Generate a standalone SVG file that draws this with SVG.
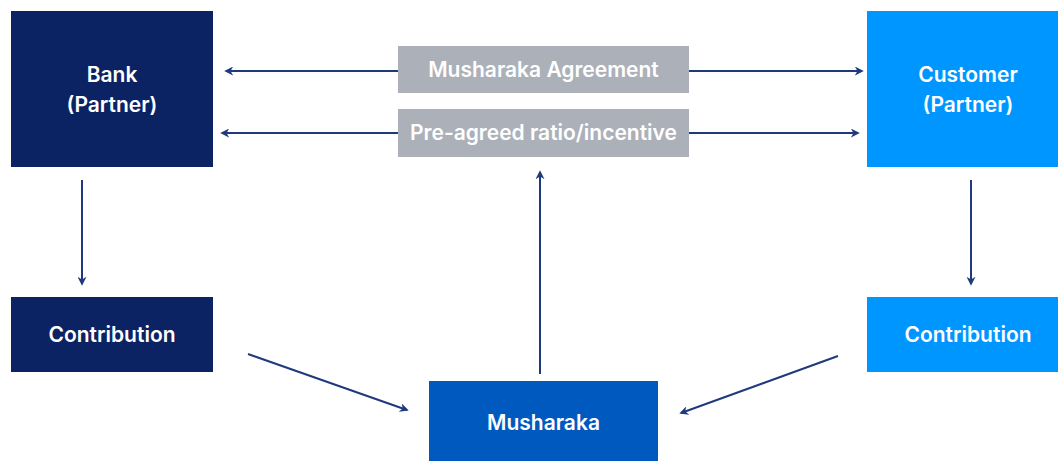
<svg xmlns="http://www.w3.org/2000/svg" width="1058" height="461" viewBox="0 0 1058 461">
<style>
.t{font-family:Inter,"Liberation Sans",sans-serif;font-weight:600;font-size:21px;fill:#ffffff;text-anchor:middle}
.c{stroke:#1f3a7c;stroke-width:2;fill:none;marker-end:url(#ah)}
</style>
<defs>
<marker id="ah" viewBox="0 0 10 10" refX="8" refY="5" markerWidth="4.5" markerHeight="4.5" orient="auto" markerUnits="strokeWidth">
<path d="M0,0 L10,5 L0,10 L3,5 z" fill="#1f3a7c"/>
</marker>
</defs>
<rect width="1058" height="461" fill="#ffffff"/>
<g id="connectors">
<line class="c" x1="398" y1="71" x2="226" y2="71"/>
<line class="c" x1="398" y1="133" x2="222" y2="133"/>
<line class="c" x1="689" y1="71" x2="862" y2="71"/>
<line class="c" x1="689" y1="133" x2="858" y2="133"/>
<line class="c" x1="82" y1="180" x2="82" y2="284"/>
<line class="c" x1="971" y1="180" x2="971" y2="284"/>
<line class="c" x1="248" y1="354" x2="407" y2="410"/>
<line class="c" x1="838" y1="356" x2="681" y2="413"/>
<line class="c" x1="540" y1="374" x2="540" y2="172"/>
</g>
<g id="bank">
<rect x="11" y="11" width="202" height="156" fill="#0c2363"/>
<text class="t" x="112" y="82">Bank</text>
<text class="t" x="112" y="112">(Partner)</text>
</g>
<g id="customer">
<rect x="867" y="11" width="202" height="156" fill="#0096ff"/>
<text class="t" x="968" y="82">Customer</text>
<text class="t" x="968" y="112">(Partner)</text>
</g>
<g id="agreement">
<rect x="398" y="46" width="291" height="47" fill="#abb0b9"/>
<text class="t" x="543.5" y="77">Musharaka Agreement</text>
</g>
<g id="ratio">
<rect x="398" y="109" width="291" height="48" fill="#abb0b9"/>
<text class="t" x="543.5" y="140">Pre-agreed ratio/incentive</text>
</g>
<g id="contribution-bank">
<rect x="11" y="297" width="202" height="75" fill="#0c2363"/>
<text class="t" x="112" y="342">Contribution</text>
</g>
<g id="contribution-customer">
<rect x="867" y="297" width="202" height="75" fill="#0096ff"/>
<text class="t" x="968" y="342">Contribution</text>
</g>
<g id="musharaka">
<rect x="429" y="381" width="229" height="80" fill="#0059bf"/>
<text class="t" x="543.5" y="430">Musharaka</text>
</g>
</svg>
